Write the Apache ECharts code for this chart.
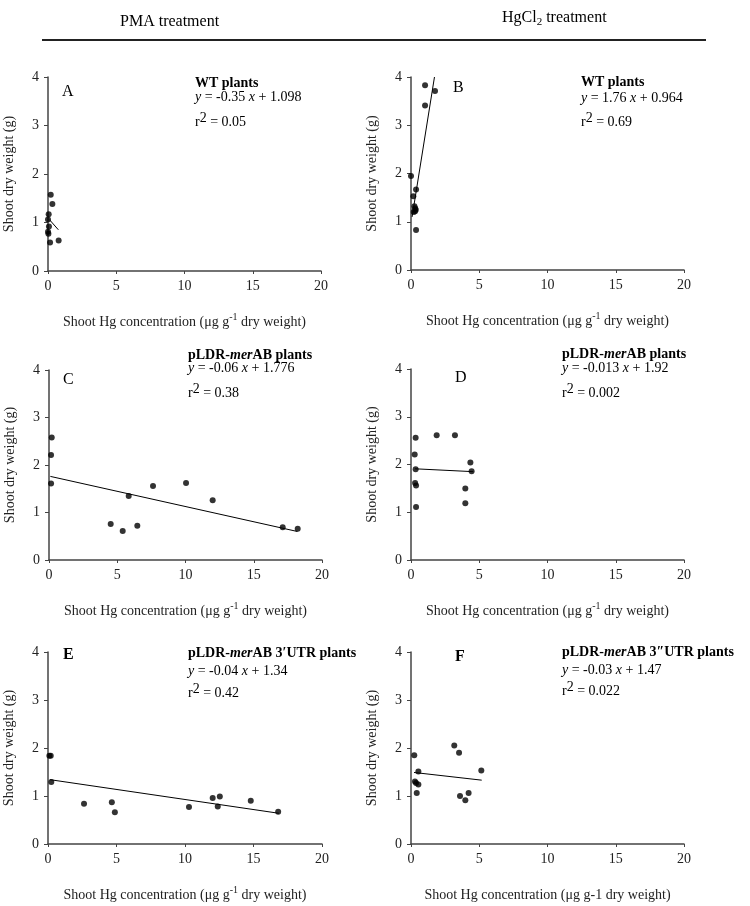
<!DOCTYPE html>
<html><head><meta charset="utf-8">
<script src="https://cdn.jsdelivr.net/npm/echarts@6/dist/echarts.min.js"></script>
<style>html,body{margin:0;padding:0;background:#fff}#c{width:750px;height:906px}</style>
</head><body><div id="c"></div>
<script>
// ---------- data ----------
const xTicks = [0, 5, 10, 15, 20];
const yTicks = [0, 1, 2, 3, 4];
const panelLetters = ['A', 'B', 'C', 'D', 'E', 'F'];
const groupTitles = ['{b|WT plants}', '{b|WT plants}',
  '{b|pLDR-}{bi|mer}{b|AB plants}', '{b|pLDR-}{bi|mer}{b|AB plants}',
  '{b|pLDR-}{bi|mer}{b|AB 3\u2032UTR plants}', '{b|pLDR-}{bi|mer}{b|AB 3\u2033UTR plants}'];
const equations = ['{i|y} = -0.35 {i|x} + 1.098', '{i|y} = 1.76 {i|x} + 0.964',
  '{i|y} = -0.06 {i|x} + 1.776', '{i|y} = -0.013 {i|x} + 1.92',
  '{i|y} = -0.04 {i|x} + 1.34', '{i|y} = -0.03 {i|x} + 1.47'];
const r2Values = ['0.05', '0.69', '0.38', '0.002', '0.42', '0.022'];
const xNames = ['Shoot Hg concentration (\u03bcg g{sup|-1} dry weight)',
  'Shoot Hg concentration (\u03bcg g{sup|-1} dry weight)',
  'Shoot Hg concentration (\u03bcg g{sup|-1} dry weight)',
  'Shoot Hg concentration (\u03bcg g{sup|-1} dry weight)',
  'Shoot Hg concentration (\u03bcg g{sup|-1} dry weight)',
  'Shoot Hg concentration (\u03bcg g-1 dry weight)'];
const yName = 'Shoot dry weight (g)';

// A: PMA, WT
const aX = [0.2, 0.32, 0.05, 0.0, 0.07, 0.0, 0.03, 0.15, 0.78];
const aY = [1.57, 1.38, 1.17, 1.06, 0.92, 0.81, 0.77, 0.59, 0.63];
const aLineX = [0.1, 0.76];
const aLineY = [1.06, 0.85];
// B: HgCl2, WT
const bX = [1.03, 1.76, 1.03, 0.0, 0.37, 0.17, 0.25, 0.3, 0.35, 0.2, 0.3, 0.37];
const bY = [3.83, 3.71, 3.41, 1.95, 1.67, 1.53, 1.32, 1.28, 1.25, 1.2, 1.22, 0.83];
const bLineX = [0.08, 1.72];
const bLineY = [1.1, 4.0];
// C: PMA, pLDR-merAB
const cX = [0.2, 0.15, 0.15, 4.52, 5.4, 5.84, 6.47, 7.62, 10.04, 11.99, 17.12, 18.22];
const cY = [2.58, 2.21, 1.61, 0.76, 0.61, 1.35, 0.72, 1.56, 1.62, 1.26, 0.69, 0.66];
const cLineX = [0.1, 18.2];
const cLineY = [1.76, 0.6];
// D: HgCl2, pLDR-merAB
const dX = [0.34, 1.88, 3.22, 0.27, 0.34, 4.35, 4.44, 0.3, 0.37, 3.98, 3.98, 0.37];
const dY = [2.56, 2.61, 2.61, 2.21, 1.90, 2.04, 1.86, 1.61, 1.56, 1.50, 1.19, 1.11];
const dLineX = [0.3, 4.56];
const dLineY = [1.91, 1.85];
// E: PMA, pLDR-merAB 3'UTR
const eX = [0.1, 0.2, 0.24, 2.63, 4.66, 4.88, 10.29, 12.02, 12.54, 12.39, 14.8, 16.8];
const eY = [1.84, 1.84, 1.29, 0.84, 0.87, 0.66, 0.77, 0.96, 0.99, 0.78, 0.90, 0.67];
const eLineX = [0.15, 16.85];
const eLineY = [1.34, 0.64];
// F: HgCl2, pLDR-merAB 3''UTR
const fX = [0.24, 3.17, 3.52, 0.54, 5.15, 0.29, 0.37, 0.54, 0.42, 3.59, 3.98, 4.22];
const fY = [1.85, 2.05, 1.90, 1.51, 1.53, 1.30, 1.27, 1.24, 1.06, 1.0, 0.91, 1.06];
const fLineX = [0.22, 5.18];
const fLineY = [1.49, 1.33];

const panelsX = [aX, bX, cX, dX, eX, fX];
const panelsY = [aY, bY, cY, dY, eY, fY];
const linesX = [aLineX, bLineX, cLineX, dLineX, eLineX, fLineX];
const linesY = [aLineY, bLineY, cLineY, dLineY, eLineY, fLineY];

// ---------- layout ----------
const serif = '"Liberation Serif", "Times New Roman", serif';
const grids = [
  {left: 48, top: 77, width: 273, height: 194},
  {left: 411, top: 77, width: 273, height: 193},
  {left: 49, top: 370, width: 273, height: 190},
  {left: 411, top: 369, width: 273, height: 191},
  {left: 48, top: 652, width: 274, height: 192},
  {left: 411, top: 652, width: 273, height: 193}
];
const letterPos = [[62, 92], [453, 88], [63, 380], [455, 378], [63, 655], [455, 657]];
const letterBold = [false, false, false, false, true, true];
const textPos = [[195, 83, 97, 122], [581, 82, 98, 122], [188, 355, 368, 393],
  [562, 354, 368, 393], [188, 653, 671, 693], [562, 652, 670, 691]];

const axisCol = '#444';
const zip = (xs, ys) => xs.map((v, i) => [v, ys[i]]);

const xAxis = [], yAxis = [], series = [], graphic = [];
grids.forEach((g, i) => {
  xAxis.push({
    type: 'value', gridIndex: i, min: xTicks[0], max: xTicks[xTicks.length - 1], interval: xTicks[1] - xTicks[0],
    axisLine: {show: true, lineStyle: {color: axisCol, width: 1.5}},
    axisTick: {show: true, length: 3, lineStyle: {color: axisCol}},
    splitLine: {show: false},
    axisLabel: {fontFamily: serif, fontSize: 14, color: '#222', margin: 8},
    name: xNames[i], nameLocation: 'middle', nameGap: 41,
    nameTextStyle: {fontFamily: serif, fontSize: 14, color: '#222', lineHeight: 20,
      rich: {sup: {fontFamily: serif, fontSize: 10, lineHeight: 10, verticalAlign: 'top', color: '#222'}}}
  });
  yAxis.push({
    type: 'value', gridIndex: i, min: yTicks[0], max: yTicks[yTicks.length - 1], interval: yTicks[1] - yTicks[0],
    axisLine: {show: true, lineStyle: {color: axisCol, width: 1.5}},
    axisTick: {show: true, length: 4, lineStyle: {color: axisCol}},
    splitLine: {show: false},
    axisLabel: {fontFamily: serif, fontSize: 14, color: '#222', margin: 9},
    name: yName, nameLocation: 'middle', nameGap: 32, nameRotate: 90,
    nameTextStyle: {fontFamily: serif, fontSize: 14, color: '#222'}
  });
  series.push({
    type: 'scatter', xAxisIndex: i, yAxisIndex: i, symbol: 'circle', symbolSize: 6,
    itemStyle: {color: '#000'}, data: zip(panelsX[i], panelsY[i]), silent: true
  });
  series.push({
    type: 'line', xAxisIndex: i, yAxisIndex: i, showSymbol: false, symbol: 'none',
    lineStyle: {color: '#000', width: 1}, data: zip(linesX[i], linesY[i]), silent: true
  });
  const rich = {
    b: {fontFamily: serif, fontSize: 14, fontWeight: 'bold', fill: '#000'},
    bi: {fontFamily: serif, fontSize: 14, fontWeight: 'bold', fontStyle: 'italic', fill: '#000'},
    i: {fontFamily: serif, fontSize: 14, fontStyle: 'italic', fill: '#000'},
    n: {fontFamily: serif, fontSize: 14, lineHeight: 22, fill: '#000'},
    sup: {fontFamily: serif, fontSize: 14, lineHeight: 12, verticalAlign: 'top', fill: '#000'}
  };
  const tp = textPos[i];
  graphic.push({type: 'text', x: letterPos[i][0], y: letterPos[i][1],
    style: {text: panelLetters[i], fontFamily: serif, fontSize: 16, fontWeight: letterBold[i] ? 'bold' : 'normal', fill: '#000', verticalAlign: 'middle'}});
  graphic.push({type: 'text', x: tp[0], y: tp[1],
    style: {text: groupTitles[i], rich, fontFamily: serif, fontSize: 14, fill: '#000', verticalAlign: 'middle'}});
  graphic.push({type: 'text', x: tp[0], y: tp[2],
    style: {text: equations[i], rich, fontFamily: serif, fontSize: 14, fill: '#000', verticalAlign: 'middle'}});
  graphic.push({type: 'text', x: tp[0], y: tp[3],
    style: {text: '{n|r}{sup|2}{n| = ' + r2Values[i] + '}', rich, fontFamily: serif, fontSize: 14, fill: '#000', verticalAlign: 'middle'}});
});

// headers
graphic.push({type: 'text', x: 120, y: 22,
  style: {text: 'PMA treatment', fontFamily: serif, fontSize: 16, fill: '#000', verticalAlign: 'middle'}});
graphic.push({type: 'text', x: 502, y: 18,
  style: {text: 'HgCl{sub|2}{n| treatment}', fontFamily: serif, fontSize: 16, fill: '#000', verticalAlign: 'middle', lineHeight: 20,
    rich: {sub: {fontFamily: serif, fontSize: 11, lineHeight: 11, verticalAlign: 'bottom', fill: '#000'},
           n: {fontFamily: serif, fontSize: 16, lineHeight: 20, fill: '#000'}}}});
graphic.push({type: 'line', shape: {x1: 42, y1: 40, x2: 706, y2: 40}, style: {stroke: '#222', lineWidth: 2}});

const chart = echarts.init(document.getElementById('c'), null, {renderer: 'canvas'});
chart.setOption({
  animation: false,
  backgroundColor: '#fff',
  grid: grids.map(g => Object.assign({containLabel: false}, g)),
  xAxis, yAxis, series, graphic
});
</script></body></html>
